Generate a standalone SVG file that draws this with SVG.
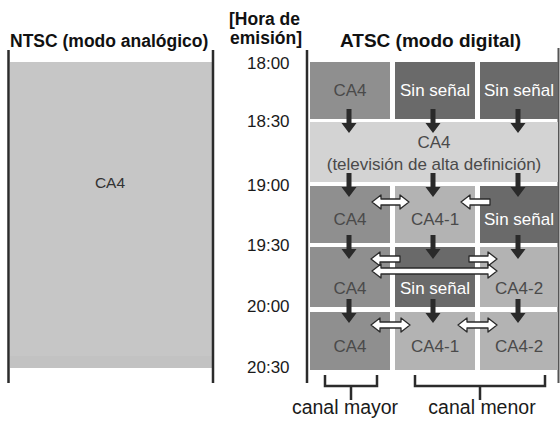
<svg xmlns="http://www.w3.org/2000/svg" width="560" height="421" viewBox="0 0 560 421">
<defs>
<style>
text{font-family:"Liberation Sans",Arial,sans-serif}
.title{font-weight:bold;fill:#111}
.time{font-size:17px;fill:#1a1a1a}
.lbl{font-size:17px;fill:#4a4a4a;text-anchor:middle}
.wl{font-size:17px;fill:#fff;text-anchor:middle}
.cap{font-size:19.5px;fill:#1a1a1a;text-anchor:middle}
.rule{stroke:#2b2b2b;stroke-width:2.5;fill:none}
.major{fill:#8f8f8f}
.none{fill:#6a6a6a}
.hd{fill:#d3d3d3}
.minor{fill:#b3b3b3}
.ntsc{fill:#c6c6c6}
.dn{fill:#2a2a2a}
.dbl{fill:#fff;stroke:#2a2a2a;stroke-width:1.3;stroke-linejoin:round}
</style>
<path id="dn" class="dn" d="M-2.5,0 h5 v14 h5 l-7.5,10 l-7.5,-10 h5 z"/>
</defs>
<rect width="560" height="421" fill="#fff"/>

<g id="headers">
<text class="title" x="10" y="47" font-size="17.5">NTSC (modo analógico)</text>
<text class="title" x="229" y="25" font-size="17.5">[Hora de</text>
<text class="title" x="230" y="44" font-size="17.5">emisión]</text>
<text class="title" x="340" y="47" font-size="19">ATSC (modo digital)</text>
</g>

<g id="ntsc-panel">
<rect class="ntsc" x="10" y="62" width="202" height="306"/>
<rect x="10" y="356" width="202" height="12" fill="#c2c2c2"/>
<line class="rule" x1="8.5" y1="50" x2="8.5" y2="383"/>
<line class="rule" x1="213" y1="50" x2="213" y2="383"/>
<text x="110" y="188" font-size="15.5" fill="#333" text-anchor="middle">CA4</text>
</g>

<g id="time-labels">
<text class="time" x="247" y="69">18:00</text>
<text class="time" x="247" y="127">18:30</text>
<text class="time" x="247" y="191">19:00</text>
<text class="time" x="247" y="251">19:30</text>
<text class="time" x="247" y="312">20:00</text>
<text class="time" x="247" y="373">20:30</text>
</g>

<g id="atsc-frame">
<line class="rule" x1="307" y1="50" x2="307" y2="383"/>
<line x1="558.5" y1="48" x2="558.5" y2="383" stroke="#555" stroke-width="2"/>
</g>

<g id="r1c1"><rect class="major" x="310" y="62" width="80" height="57"/><text class="lbl" x="350" y="96">CA4</text></g>
<g id="r1c2"><rect class="none" x="395" y="62" width="80" height="57"/><text class="wl" x="435" y="96">Sin señal</text></g>
<g id="r1c3"><rect class="none" x="480" y="62" width="78" height="57"/><text class="wl" x="519" y="96">Sin señal</text></g>

<g id="hd"><rect class="hd" x="310" y="122" width="248" height="60"/>
<text class="lbl" x="434" y="148">CA4</text>
<text class="lbl" x="434" y="170" font-size="19">(televisión de alta definición)</text></g>

<g id="r3c1"><rect class="major" x="310" y="186" width="80" height="57"/><text class="lbl" x="350" y="225">CA4</text></g>
<g id="r3c2"><rect class="minor" x="395" y="186" width="80" height="57"/><text class="lbl" x="435" y="225">CA4-1</text></g>
<g id="r3c3"><rect class="none" x="480" y="186" width="78" height="57"/><text class="wl" x="519" y="225">Sin señal</text></g>

<g id="r4c1"><rect class="major" x="310" y="247" width="80" height="60"/><text class="lbl" x="350" y="294">CA4</text></g>
<g id="r4c2"><rect class="none" x="395" y="247" width="80" height="60"/><text class="wl" x="435" y="294">Sin señal</text></g>
<g id="r4c3"><rect class="minor" x="480" y="247" width="78" height="60"/><text class="lbl" x="519" y="294">CA4-2</text></g>

<g id="r5c1"><rect class="major" x="310" y="312" width="80" height="58"/><text class="lbl" x="350" y="352">CA4</text></g>
<g id="r5c2"><rect class="minor" x="395" y="312" width="80" height="58"/><text class="lbl" x="435" y="352">CA4-1</text></g>
<g id="r5c3"><rect class="minor" x="480" y="312" width="78" height="58"/><text class="lbl" x="519" y="352">CA4-2</text></g>

<g id="connectors">
<use href="#dn" x="349" y="109"/><use href="#dn" x="433" y="109"/><use href="#dn" x="518" y="109"/>
<use href="#dn" x="349" y="173"/><use href="#dn" x="433" y="173"/><use href="#dn" x="518" y="173"/>
<use href="#dn" x="349" y="235"/><use href="#dn" x="433" y="235"/><use href="#dn" x="518" y="235"/>
<use href="#dn" x="349" y="299"/><use href="#dn" x="433" y="299"/><use href="#dn" x="518" y="299"/>
<path class="dbl" d="M372,202 l9,-7 v4 h19 v-4 l9,7 l-9,7 v-4 h-19 v4 z"/>
<path class="dbl" d="M461,202 l9,-7 v4 h20 v6 h-20 v4 z"/>
<path class="dbl" d="M371,259 l9,-7 v4 h20 v6 h-20 v4 z"/>
<path class="dbl" d="M497,259 l-9,-7 v4 h-19 v6 h19 v4 z"/>
<path class="dbl" d="M372,271 l9,-7 v4 h107 v-4 l9,7 l-9,7 v-4 h-107 v4 z"/>
<path class="dbl" d="M371,325 l9,-7 v4 h21 v-4 l9,7 l-9,7 v-4 h-21 v4 z"/>
<path class="dbl" d="M458,325 l9,-7 v4 h21 v-4 l9,7 l-9,7 v-4 h-21 v4 z"/>
</g>

<g id="bracket-major">
<path class="rule" d="M325,375 V386 H377 V375 M351,386 V400"/>
<text class="cap" x="345" y="414">canal mayor</text>
</g>
<g id="bracket-minor">
<path class="rule" d="M415,375 V386 H545 V375 M480,386 V400"/>
<text class="cap" x="482" y="414">canal menor</text>
</g>
</svg>
